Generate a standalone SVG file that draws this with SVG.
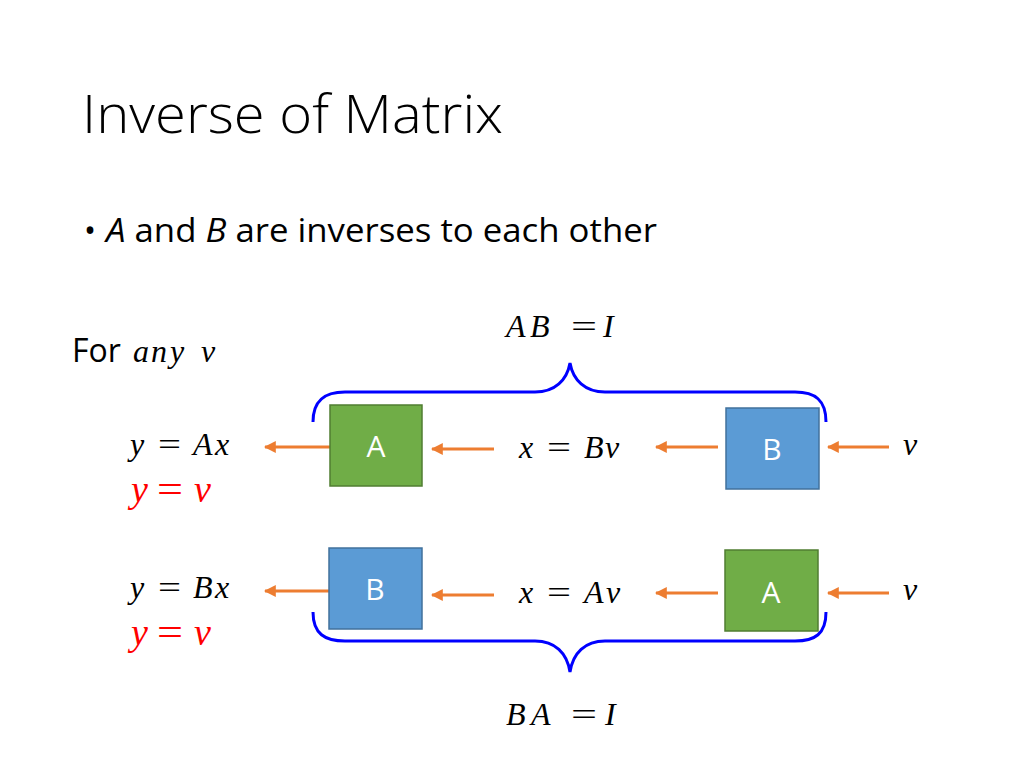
<svg xmlns="http://www.w3.org/2000/svg" width="1024" height="768" viewBox="0 0 1024 768">
<defs>
<marker id="ah" viewBox="0 0 10 10" refX="9" refY="5" markerWidth="4" markerHeight="4" orient="auto-start-reverse" markerUnits="strokeWidth">
<path d="M0,0 L10,5 L0,10 z" fill="#ED7D31"/>
</marker>
<style>
.sans{font-family:"Open Sans","Noto Sans","Liberation Sans",sans-serif;fill:#000}
.title{font-weight:300;font-size:54px}
.m{font-family:"Liberation Serif","DejaVu Serif",serif;font-size:32px;fill:#000}
.i{font-style:italic}
.red{fill:#FF0000;font-size:38px}
.box-a{fill:#70AD47;stroke:#507E32;stroke-width:1.5}
.box-b{fill:#5B9BD5;stroke:#41719C;stroke-width:1.5}
.lbl{font-family:"Open Sans","Noto Sans","Liberation Sans",sans-serif;font-size:30px;fill:#fff;text-anchor:middle}
.arr{stroke:#ED7D31;stroke-width:3;fill:none;marker-end:url(#ah)}
.brace{stroke:#0000FF;stroke-width:3;fill:none}
</style>
</defs>
<rect width="1024" height="768" fill="#fff"/>
<text class="sans title" x="82" y="133" textLength="421" lengthAdjust="spacingAndGlyphs">Inverse of Matrix</text>
<text class="sans" x="84" y="242" font-size="32">•</text>
<text class="sans" x="106" y="242" font-size="32" textLength="551" lengthAdjust="spacingAndGlyphs"><tspan class="i">A</tspan> and <tspan class="i">B</tspan> are inverses to each other</text>
<text class="sans" x="72" y="362" font-size="32">For</text>
<text class="m i" y="362" font-size="34"><tspan x="133 151 170">any</tspan><tspan x="201">v</tspan></text>
<text class="m" y="337" font-size="37"><tspan class="i" x="506 530">AB</tspan><tspan x="571" textLength="26" lengthAdjust="spacingAndGlyphs">=</tspan><tspan class="i" x="603">I</tspan></text>
<text class="m" y="725" font-size="37"><tspan class="i" x="506 531">BA</tspan><tspan x="571" textLength="26" lengthAdjust="spacingAndGlyphs">=</tspan><tspan class="i" x="605">I</tspan></text>

<g id="brace-top"><path class="brace" d="M313,422 C313,400 325,392 345,392 L535,392 C555,392 567,380 570,363 C573,380 585,392 605,392 L795,392 C815,392 826,400 826,422"/></g>
<g id="brace-bottom"><path class="brace" d="M313,612 C313,634 325,641 345,641 L535,641 C555,641 567,653 570,672 C573,653 585,641 605,641 L795,641 C815,641 826,634 826,612"/></g>

<g id="connectors">
<line class="arr" x1="330" y1="447" x2="265" y2="447"/>
<line class="arr" x1="494" y1="449" x2="432" y2="449"/>
<line class="arr" x1="718" y1="447" x2="656" y2="447"/>
<line class="arr" x1="889" y1="447" x2="828" y2="447"/>
<line class="arr" x1="329" y1="591" x2="265" y2="591"/>
<line class="arr" x1="494" y1="595" x2="432" y2="595"/>
<line class="arr" x1="718" y1="593" x2="656" y2="593"/>
<line class="arr" x1="889" y1="593" x2="828" y2="593"/>
</g>

<g id="node-a1"><rect class="box-a" x="330" y="405" width="92" height="81"/><text class="lbl" x="376" y="457">A</text></g>
<g id="node-b1"><rect class="box-b" x="726" y="408" width="93" height="81"/><text class="lbl" x="772" y="460">B</text></g>
<g id="node-b2"><rect class="box-b" x="329" y="548" width="93" height="81"/><text class="lbl" x="375" y="600">B</text></g>
<g id="node-a2"><rect class="box-a" x="725" y="550" width="93" height="81"/><text class="lbl" x="771" y="603">A</text></g>

<g id="labels">
<text class="m" y="455"><tspan class="i" x="130">y</tspan><tspan x="158" textLength="23" lengthAdjust="spacingAndGlyphs">=</tspan><tspan class="i" x="193 215">Ax</tspan></text>
<text class="m red" y="502"><tspan class="i" x="131">y</tspan><tspan x="157" textLength="26" lengthAdjust="spacingAndGlyphs">=</tspan><tspan class="i" x="194">v</tspan></text>
<text class="m" y="458"><tspan class="i" x="519">x</tspan><tspan x="547" textLength="24" lengthAdjust="spacingAndGlyphs">=</tspan><tspan class="i" x="584 605">Bv</tspan></text>
<text class="m i" x="903" y="455">v</text>
<text class="m" y="598"><tspan class="i" x="130">y</tspan><tspan x="158" textLength="23" lengthAdjust="spacingAndGlyphs">=</tspan><tspan class="i" x="193 215">Bx</tspan></text>
<text class="m red" y="645"><tspan class="i" x="131">y</tspan><tspan x="157" textLength="26" lengthAdjust="spacingAndGlyphs">=</tspan><tspan class="i" x="194">v</tspan></text>
<text class="m" y="603"><tspan class="i" x="519">x</tspan><tspan x="547" textLength="24" lengthAdjust="spacingAndGlyphs">=</tspan><tspan class="i" x="584 606">Av</tspan></text>
<text class="m i" x="903" y="600">v</text>
</g>
</svg>
